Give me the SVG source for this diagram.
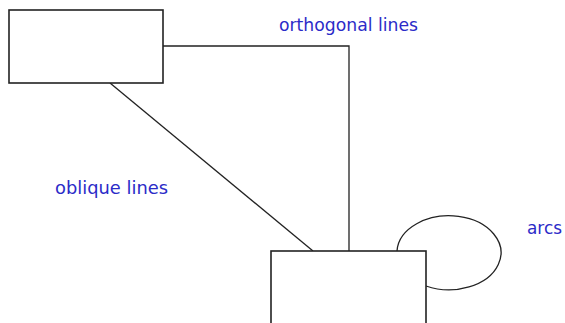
<svg xmlns="http://www.w3.org/2000/svg" width="565" height="323" viewBox="0 0 565 323">
<style>
.node{fill:#fff;stroke:#222;stroke-width:1.6}
.conn{fill:none;stroke:#222;stroke-width:1.3}
.lbl{font-family:"DejaVu Sans","Liberation Sans",sans-serif;font-size:17px;fill:#2b2bc8}
</style>
<rect width="565" height="323" fill="#fff"/>
<g id="connectors">
<polyline class="conn" points="163,46 349,46 349,251"/>
<line class="conn" x1="110" y1="83" x2="313" y2="251"/>
<path class="conn" d="M397,251 A52,37 0 1 1 426,286"/>
</g>
<g id="node1"><rect class="node" x="9" y="10" width="154" height="73"/></g>
<g id="node2"><rect class="node" x="271" y="251" width="155" height="80"/></g>
<g id="labels">
<text class="lbl" x="279" y="31" textLength="139" lengthAdjust="spacingAndGlyphs">orthogonal lines</text>
<text class="lbl" x="55" y="194" textLength="113" lengthAdjust="spacingAndGlyphs">oblique lines</text>
<text class="lbl" x="527" y="234" textLength="35" lengthAdjust="spacingAndGlyphs">arcs</text>
</g>
</svg>
